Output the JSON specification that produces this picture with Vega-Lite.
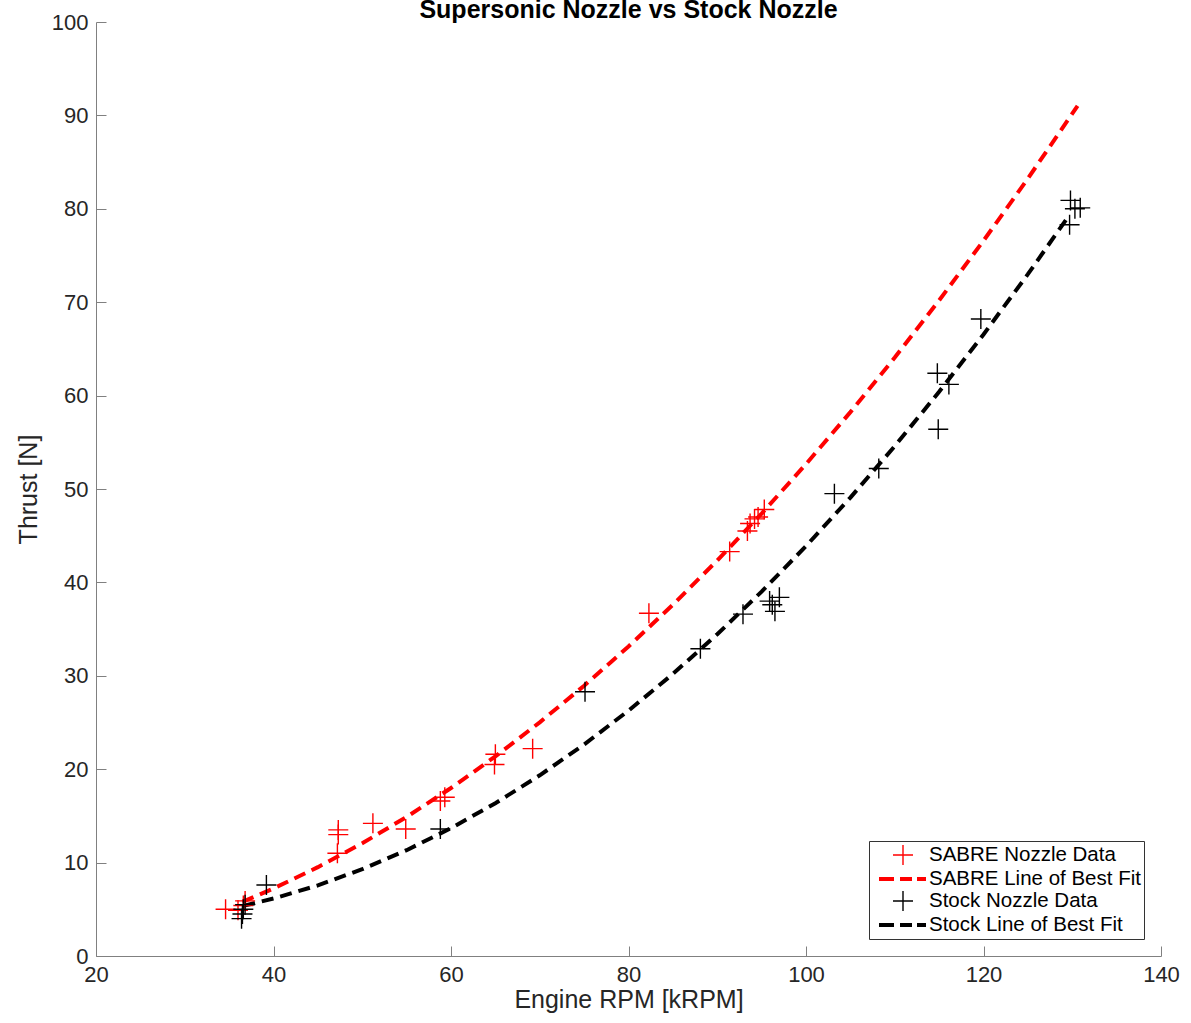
{
  "$schema": "https://vega.github.io/schema/vega-lite/v6.json",
  "autosize": {"type": "none"},
  "padding": {"left": 96, "top": 22, "right": 30, "bottom": 67},
  "width": 1065,
  "height": 934,
  "background": "white",
  "title": {"text": "Supersonic Nozzle vs Stock Nozzle", "font": "Liberation Sans", "fontSize": 25, "fontWeight": "bold", "color": "#000000", "anchor": "middle", "offset": 0, "dy": 12},
  "config": {"view": {"stroke": null}, "font": "Liberation Sans"},
  "datasets": {
    "pts": [
      {"series": "SABRE Nozzle Data", "rpm": 34.6, "thrust": 5.0},
      {"series": "SABRE Nozzle Data", "rpm": 36.0, "thrust": 4.9},
      {"series": "SABRE Nozzle Data", "rpm": 36.6, "thrust": 5.4},
      {"series": "SABRE Nozzle Data", "rpm": 36.8, "thrust": 5.9},
      {"series": "SABRE Nozzle Data", "rpm": 47.3, "thrust": 13.5},
      {"series": "SABRE Nozzle Data", "rpm": 47.3, "thrust": 13.0},
      {"series": "SABRE Nozzle Data", "rpm": 47.2, "thrust": 11.0},
      {"series": "SABRE Nozzle Data", "rpm": 51.2, "thrust": 14.2},
      {"series": "SABRE Nozzle Data", "rpm": 54.9, "thrust": 13.6},
      {"series": "SABRE Nozzle Data", "rpm": 58.8, "thrust": 16.6},
      {"series": "SABRE Nozzle Data", "rpm": 59.3, "thrust": 17.0},
      {"series": "SABRE Nozzle Data", "rpm": 65.0, "thrust": 21.6},
      {"series": "SABRE Nozzle Data", "rpm": 64.9, "thrust": 20.5},
      {"series": "SABRE Nozzle Data", "rpm": 69.2, "thrust": 22.2},
      {"series": "SABRE Nozzle Data", "rpm": 82.3, "thrust": 36.7},
      {"series": "SABRE Nozzle Data", "rpm": 91.4, "thrust": 43.3},
      {"series": "SABRE Nozzle Data", "rpm": 93.4, "thrust": 45.5},
      {"series": "SABRE Nozzle Data", "rpm": 93.7, "thrust": 46.3},
      {"series": "SABRE Nozzle Data", "rpm": 94.2, "thrust": 46.8},
      {"series": "SABRE Nozzle Data", "rpm": 94.6, "thrust": 47.0},
      {"series": "SABRE Nozzle Data", "rpm": 95.3, "thrust": 47.8},
      {"series": "Stock Nozzle Data", "rpm": 36.4, "thrust": 4.0},
      {"series": "Stock Nozzle Data", "rpm": 36.5, "thrust": 4.5},
      {"series": "Stock Nozzle Data", "rpm": 36.6, "thrust": 5.0},
      {"series": "Stock Nozzle Data", "rpm": 36.8, "thrust": 5.5},
      {"series": "Stock Nozzle Data", "rpm": 39.2, "thrust": 7.6},
      {"series": "Stock Nozzle Data", "rpm": 58.8, "thrust": 13.6},
      {"series": "Stock Nozzle Data", "rpm": 75.1, "thrust": 28.3},
      {"series": "Stock Nozzle Data", "rpm": 88.1, "thrust": 32.9},
      {"series": "Stock Nozzle Data", "rpm": 92.9, "thrust": 36.6},
      {"series": "Stock Nozzle Data", "rpm": 95.9, "thrust": 38.0},
      {"series": "Stock Nozzle Data", "rpm": 96.2, "thrust": 37.6},
      {"series": "Stock Nozzle Data", "rpm": 96.5, "thrust": 36.9},
      {"series": "Stock Nozzle Data", "rpm": 97.0, "thrust": 38.4},
      {"series": "Stock Nozzle Data", "rpm": 103.2, "thrust": 49.5},
      {"series": "Stock Nozzle Data", "rpm": 108.2, "thrust": 52.2},
      {"series": "Stock Nozzle Data", "rpm": 114.8, "thrust": 62.4},
      {"series": "Stock Nozzle Data", "rpm": 114.9, "thrust": 56.4},
      {"series": "Stock Nozzle Data", "rpm": 116.1, "thrust": 61.2},
      {"series": "Stock Nozzle Data", "rpm": 119.7, "thrust": 68.2},
      {"series": "Stock Nozzle Data", "rpm": 129.8, "thrust": 80.9},
      {"series": "Stock Nozzle Data", "rpm": 129.7, "thrust": 78.3},
      {"series": "Stock Nozzle Data", "rpm": 130.3, "thrust": 80.0},
      {"series": "Stock Nozzle Data", "rpm": 130.9, "thrust": 80.1}
    ],
    "fit": [
      {"series": "SABRE Line of Best Fit", "rpm": 36.5, "thrust": 5.80},
      {"series": "SABRE Line of Best Fit", "rpm": 40, "thrust": 7.23},
      {"series": "SABRE Line of Best Fit", "rpm": 45, "thrust": 9.51},
      {"series": "SABRE Line of Best Fit", "rpm": 50, "thrust": 12.07},
      {"series": "SABRE Line of Best Fit", "rpm": 55, "thrust": 14.89},
      {"series": "SABRE Line of Best Fit", "rpm": 60, "thrust": 17.99},
      {"series": "SABRE Line of Best Fit", "rpm": 65, "thrust": 21.37},
      {"series": "SABRE Line of Best Fit", "rpm": 70, "thrust": 25.02},
      {"series": "SABRE Line of Best Fit", "rpm": 75, "thrust": 28.94},
      {"series": "SABRE Line of Best Fit", "rpm": 80, "thrust": 33.14},
      {"series": "SABRE Line of Best Fit", "rpm": 85, "thrust": 37.61},
      {"series": "SABRE Line of Best Fit", "rpm": 90, "thrust": 42.35},
      {"series": "SABRE Line of Best Fit", "rpm": 95, "thrust": 47.37},
      {"series": "SABRE Line of Best Fit", "rpm": 100, "thrust": 52.67},
      {"series": "SABRE Line of Best Fit", "rpm": 105, "thrust": 58.23},
      {"series": "SABRE Line of Best Fit", "rpm": 110, "thrust": 64.07},
      {"series": "SABRE Line of Best Fit", "rpm": 115, "thrust": 70.19},
      {"series": "SABRE Line of Best Fit", "rpm": 120, "thrust": 76.58},
      {"series": "SABRE Line of Best Fit", "rpm": 125, "thrust": 83.24},
      {"series": "SABRE Line of Best Fit", "rpm": 130, "thrust": 90.18},
      {"series": "SABRE Line of Best Fit", "rpm": 130.6, "thrust": 91.03},
      {"series": "Stock Line of Best Fit", "rpm": 36.6, "thrust": 5.37},
      {"series": "Stock Line of Best Fit", "rpm": 40, "thrust": 6.15},
      {"series": "Stock Line of Best Fit", "rpm": 45, "thrust": 7.56},
      {"series": "Stock Line of Best Fit", "rpm": 50, "thrust": 9.29},
      {"series": "Stock Line of Best Fit", "rpm": 55, "thrust": 11.33},
      {"series": "Stock Line of Best Fit", "rpm": 60, "thrust": 13.69},
      {"series": "Stock Line of Best Fit", "rpm": 65, "thrust": 16.36},
      {"series": "Stock Line of Best Fit", "rpm": 70, "thrust": 19.35},
      {"series": "Stock Line of Best Fit", "rpm": 75, "thrust": 22.65},
      {"series": "Stock Line of Best Fit", "rpm": 80, "thrust": 26.27},
      {"series": "Stock Line of Best Fit", "rpm": 85, "thrust": 30.20},
      {"series": "Stock Line of Best Fit", "rpm": 90, "thrust": 34.45},
      {"series": "Stock Line of Best Fit", "rpm": 95, "thrust": 39.01},
      {"series": "Stock Line of Best Fit", "rpm": 100, "thrust": 43.89},
      {"series": "Stock Line of Best Fit", "rpm": 105, "thrust": 49.08},
      {"series": "Stock Line of Best Fit", "rpm": 110, "thrust": 54.59},
      {"series": "Stock Line of Best Fit", "rpm": 115, "thrust": 60.41},
      {"series": "Stock Line of Best Fit", "rpm": 120, "thrust": 66.55},
      {"series": "Stock Line of Best Fit", "rpm": 125, "thrust": 73.00},
      {"series": "Stock Line of Best Fit", "rpm": 129.6, "thrust": 79.22}
    ]
  },
  "encoding": {
    "x": {"field": "rpm", "type": "quantitative", "scale": {"domain": [20, 140], "nice": false, "zero": false},
      "axis": {"title": "Engine RPM [kRPM]", "values": [20, 40, 60, 80, 100, 120, 140], "grid": false, "domainColor": "#808080", "domainWidth": 1, "tickColor": "#808080", "tickWidth": 1, "tickSize": -10, "labelPadding": 18, "labelFontSize": 22, "labelColor": "#262626", "labelFont": "Liberation Sans", "labelFlush": false, "labelOverlap": false, "titleFont": "Liberation Sans", "titleFontSize": 25, "titleFontWeight": "normal", "titleColor": "#262626", "titlePadding": 2}},
    "y": {"field": "thrust", "type": "quantitative", "scale": {"domain": [0, 100], "nice": false},
      "axis": {"title": "Thrust [N]", "values": [0, 10, 20, 30, 40, 50, 60, 70, 80, 90, 100], "grid": false, "domainColor": "#808080", "domainWidth": 1, "tickColor": "#808080", "tickWidth": 1, "tickSize": -10, "labelPadding": 18, "labelFontSize": 22, "labelColor": "#262626", "labelFont": "Liberation Sans", "labelFlush": false, "labelOverlap": false, "titleFont": "Liberation Sans", "titleFontSize": 25, "titleFontWeight": "normal", "titleColor": "#262626", "titlePadding": 10}}
  },
  "resolve": {"scale": {"color": "independent"}, "legend": {"color": "independent"}},
  "layer": [
    {
      "data": {"name": "fit"},
      "mark": {"type": "line", "strokeWidth": 4, "strokeDash": [12, 7], "strokeCap": "butt"},
      "encoding": {
        "color": {"field": "series", "type": "nominal",
          "scale": {"domain": ["SABRE Line of Best Fit", "Stock Line of Best Fit"], "range": ["#ff0000", "#000000"]},
          "legend": null}
      }
    },
    {
      "data": {"name": "pts"},
      "mark": {"type": "point", "filled": false, "strokeWidth": 1.4, "size": 400, "opacity": 1},
      "encoding": {
        "stroke": {"field": "series", "type": "nominal",
          "scale": {"domain": ["SABRE Nozzle Data", "SABRE Line of Best Fit", "Stock Nozzle Data", "Stock Line of Best Fit"], "range": ["#ff0000", "#ff0000", "#000000", "#000000"]},
          "legend": {"title": null, "orient": "bottom-right", "offset": 17, "padding": 3, "rowPadding": -2.5, "labelFont": "Liberation Sans", "labelFontSize": 20.5, "labelColor": "#000000", "labelOffset": 15, "symbolOffset": 20, "symbolSize": 400, "symbolStrokeWidth": 1.4, "strokeColor": "#333333", "fillColor": "#ffffff", "labelLimit": 400}},
        "shape": {"field": "series", "type": "nominal",
          "scale": {"domain": ["SABRE Nozzle Data", "SABRE Line of Best Fit", "Stock Nozzle Data", "Stock Line of Best Fit"], "range": ["M-1,0H1M0,-1V1", "M-2.4,-0.13H-0.9M-2.4,0H-0.9M-2.4,0.13H-0.9M-0.3,-0.13H0.9M-0.3,0H0.9M-0.3,0.13H0.9M1.4,-0.13H2.3M1.4,0H2.3M1.4,0.13H2.3", "M-1,0H1M0,-1V1", "M-2.4,-0.13H-0.9M-2.4,0H-0.9M-2.4,0.13H-0.9M-0.3,-0.13H0.9M-0.3,0H0.9M-0.3,0.13H0.9M1.4,-0.13H2.3M1.4,0H2.3M1.4,0.13H2.3"]},
          "legend": {"title": null, "orient": "bottom-right", "offset": 17, "padding": 3, "rowPadding": -2.5, "labelFont": "Liberation Sans", "labelFontSize": 20.5, "labelColor": "#000000", "labelOffset": 15, "symbolOffset": 20, "symbolSize": 400, "symbolStrokeWidth": 1.4, "strokeColor": "#333333", "fillColor": "#ffffff", "labelLimit": 400}}
      }
    }
  ]
}
